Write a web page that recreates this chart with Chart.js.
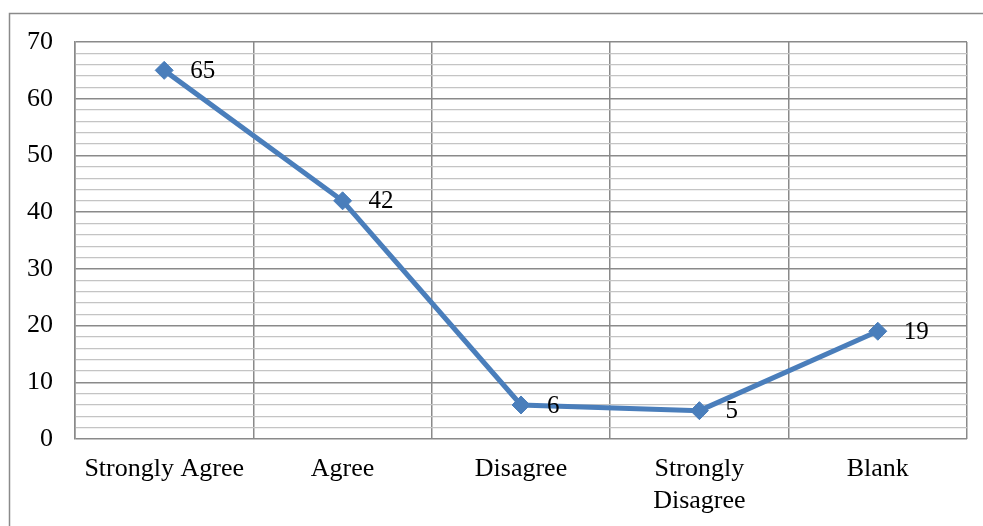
<!DOCTYPE html>
<html>
<head>
<meta charset="utf-8">
<script src="https://cdn.jsdelivr.net/npm/chart.js@4"></script>
<style>
  html, body { margin: 0; padding: 0; background: #fff; }
  #wrap { width: 983px; height: 526px; position: relative; }
</style>
</head>
<body>
<div id="wrap"><canvas id="c" width="983" height="526"></canvas></div>
<script>
const categories = ['Strongly Agree', 'Agree', 'Disagree', ['Strongly', 'Disagree'], 'Blank'];
const values = [65, 42, 6, 5, 19];
const yTickLabels = [0, 10, 20, 30, 40, 50, 60, 70];

const FONT = '"Liberation Serif", "Times New Roman", serif';

const borderPlugin = {
  id: 'outerBorder',
  beforeDraw(chart) {
    const ctx = chart.ctx;
    ctx.save();
    ctx.fillStyle = '#fff';
    ctx.fillRect(0, 0, chart.width, chart.height);
    ctx.strokeStyle = '#8a8a8a';
    ctx.lineWidth = 1.5;
    ctx.strokeRect(9.5, 13.5, 1200, 800);
    ctx.restore();
  }
};

const labelPlugin = {
  id: 'dataLabels',
  afterDatasetsDraw(chart) {
    const ctx = chart.ctx;
    const meta = chart.getDatasetMeta(0);
    ctx.save();
    ctx.font = '25px ' + FONT;
    ctx.fillStyle = '#000';
    ctx.textAlign = 'left';
    ctx.textBaseline = 'middle';
    meta.data.forEach((pt, i) => {
      ctx.fillText(String(values[i]), pt.x + 26, pt.y + 1);
    });
    ctx.restore();
  }
};

new Chart(document.getElementById('c'), {
  type: 'line',
  data: {
    labels: categories,
    datasets: [{
      data: values,
      borderColor: '#4a7ebb',
      backgroundColor: '#4a7ebb',
      borderWidth: 5,
      pointStyle: 'rectRot',
      pointRadius: 9,
      pointBorderWidth: 1,
      pointBackgroundColor: '#4a7ebb',
      pointBorderColor: '#4a7ebb',
      tension: 0,
      fill: false
    }]
  },
  options: {
    responsive: false,
    animation: false,
    devicePixelRatio: 1,
    layout: { padding: { left: 0, top: 42, right: 16, bottom: 0 } },
    plugins: { legend: { display: false }, tooltip: { enabled: false } },
    scales: {
      x: {
        offset: true,
        grid: { offset: true, color: '#8a8a8a', lineWidth: 1.5, drawTicks: false },
        border: { display: false },
        ticks: { font: { family: FONT, size: 26 }, color: '#000', padding: 15, maxRotation: 0, autoSkip: false },
        afterFit(s) { s.height = 87; }
      },
      y: {
        min: 0, max: 70,
        grid: {
          drawTicks: false,
          color: (c) => (c.tick && c.tick.value % 10 === 0) ? '#8a8a8a' : '#c4c4c4',
          lineWidth: (c) => (c.tick && c.tick.value % 10 === 0) ? 1.5 : 1.2
        },
        border: { display: true, color: '#8a8a8a', width: 1.5 },
        ticks: {
          stepSize: 2,
          autoSkip: false,
          padding: 22,
          color: '#000',
          font: { family: FONT, size: 26 },
          callback: (v) => yTickLabels.includes(v) ? String(v) : ''
        },
        afterFit(s) { s.width = 75; }
      }
    }
  },
  plugins: [borderPlugin, labelPlugin]
});
</script>
</body>
</html>
